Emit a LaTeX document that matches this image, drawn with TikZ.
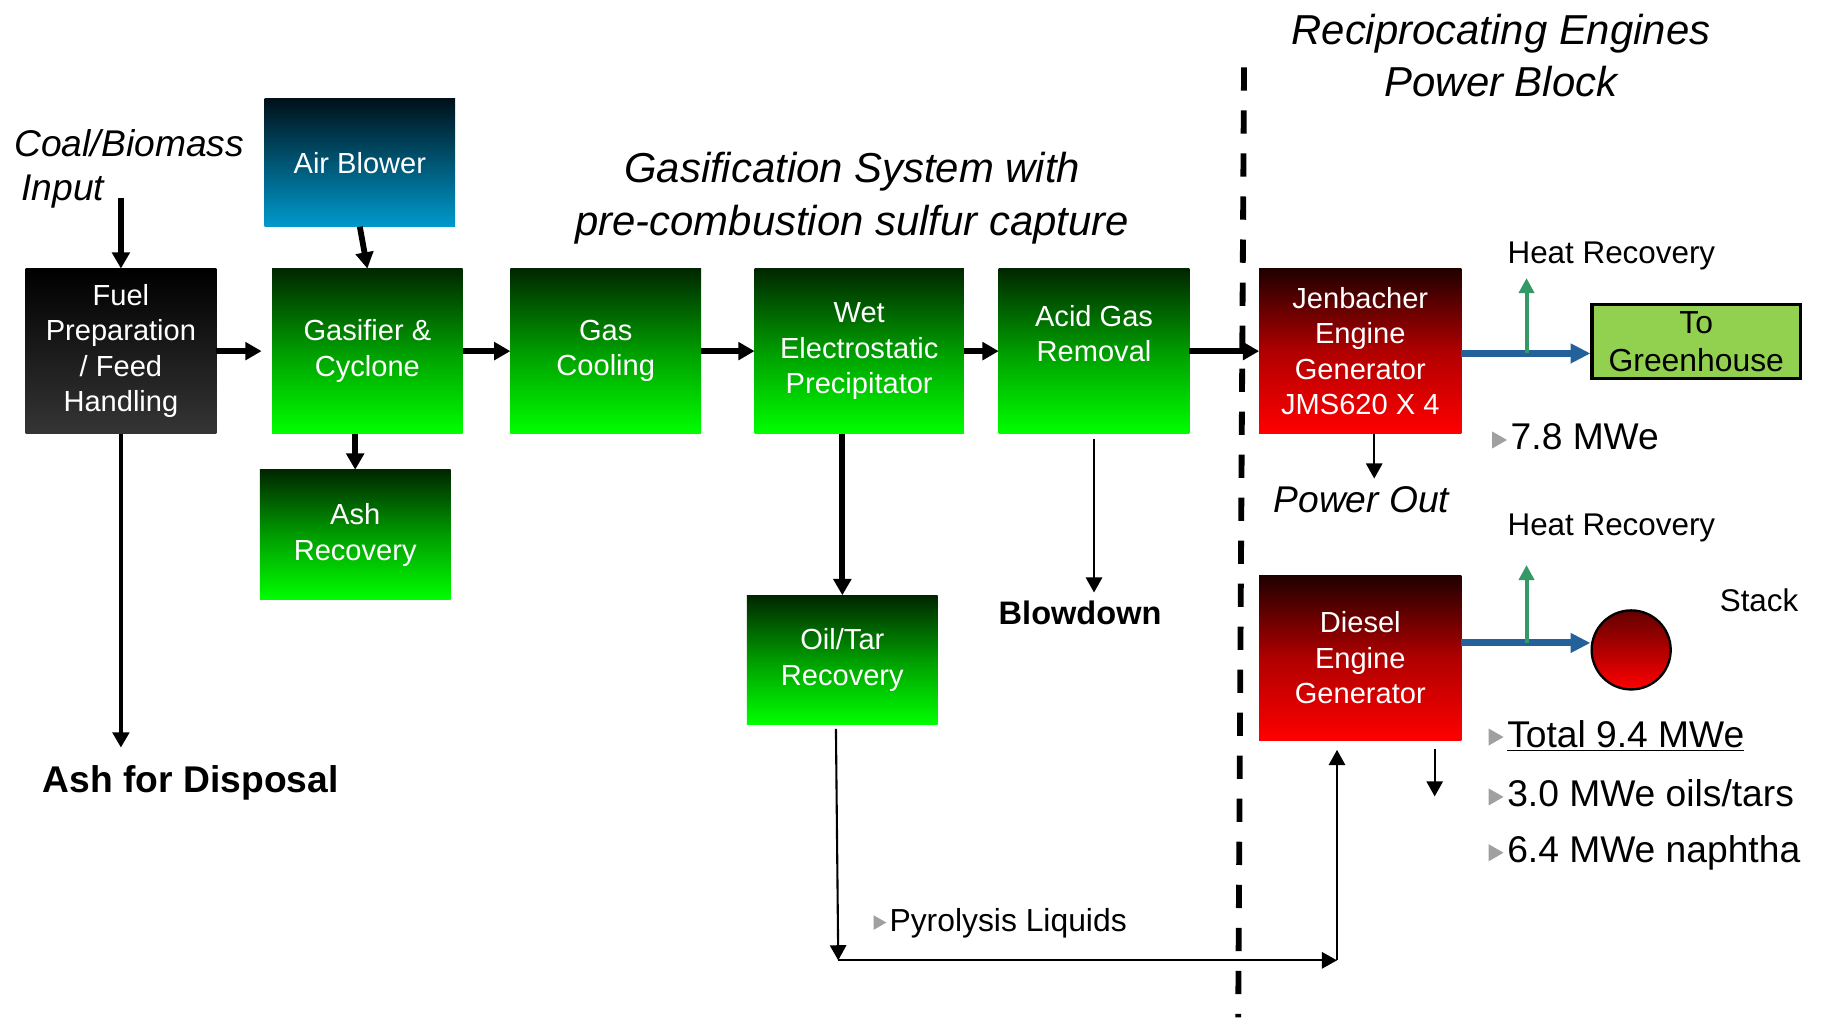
\documentclass[tikz,border=0pt]{standalone}
\usepackage{fontspec}
\setmainfont{Liberation Sans}
\definecolor{procgreen}{HTML}{00FF00}
\definecolor{procgreenmid}{HTML}{009C00}
\definecolor{procgreendark}{HTML}{002600}
\definecolor{procred}{HTML}{FF0000}
\definecolor{procredmid}{HTML}{B00000}
\definecolor{procreddark}{HTML}{200000}
\definecolor{procblue}{HTML}{009ACD}
\definecolor{procbluedark}{HTML}{00111A}
\definecolor{fuelgray}{HTML}{353535}
\definecolor{housegreen}{HTML}{92D050}
\definecolor{heatblue}{HTML}{24609A}
\definecolor{heatgreen}{HTML}{339966}
\definecolor{bulgray}{HTML}{A0A0A0}
\usepackage{tikz}
\usetikzlibrary{arrows.meta, positioning}
\newcommand{\bul}{\tikz[baseline=-0.6pt]\fill[bulgray] (0,0) -- (0,0.46em) -- (0.4em,0.23em) -- cycle;\hspace{0.1em}}

\begin{document}
\begin{tikzpicture}[x=0.5pt, y=-0.5pt,
      procbox/.style={minimum width=82pt, minimum height=71pt, inner sep=2pt, outer sep=0pt,
                      font=\fontsize{12.5}{15.25}\selectfont, align=center, text=white},
      greenbox/.style={procbox, top color=procgreendark, bottom color=procgreen, middle color=procgreenmid},
      redbox/.style={procbox, minimum width=87pt, top color=procreddark, bottom color=procred, middle color=procredmid},
      fuelbox/.style={procbox, top color=black, bottom color=fuelgray},
      bluebox/.style={procbox, minimum height=55pt, top color=procbluedark, bottom color=procblue},
      housebox/.style={draw=black, line width=1.3pt, fill=housegreen, minimum width=89.7pt,
                       minimum height=31.7pt, inner sep=1pt, align=center,
                       font=\fontsize{13.7}{16.5}\selectfont},
      stackball/.style={circle, draw=black, line width=1pt, minimum size=34pt,
                        top color=procreddark!70!procred, bottom color=procred, middle color=procredmid},
      headline/.style={font=\fontsize{18}{22.5}\selectfont\itshape, align=center},
      heatlabel/.style={font=\fontsize{13.5}{16}\selectfont},
      mwlabel/.style={inner sep=0pt, font=\fontsize{16}{19}\selectfont},
      thickarr/.style={-{Triangle[length=7pt, width=7.5pt]}, line width=2.5pt},
      midarr/.style={-{Triangle[length=6.5pt, width=7pt]}, line width=1.7pt},
      thinarr/.style={-{Triangle[length=6.5pt, width=7pt]}, line width=0.9pt},
      heatarr/.style={-{Triangle[length=8.5pt, width=8pt]}, line width=3pt, heatblue},
      ventarr/.style={-{Triangle[length=6.5pt, width=6.5pt]}, line width=1.7pt, heatgreen},
      divider/.style={line width=2.5pt, dash pattern=on 10pt off 8.5pt}
    ]
    \useasboundingbox (0,0) rectangle (1568,889);

    \node[fuelbox, anchor=north west] (fuel) at (22,231) {Fuel\\Preparation\\/ Feed\\Handling};
    \node[greenbox, right=24pt of fuel] (gasifier) {Gasifier \&\\Cyclone};
    \node[greenbox, right=20.5pt of gasifier] (cooling) {Gas\\Cooling};
    \node[greenbox, minimum width=90pt, right=23pt of cooling] (esp) {Wet\\Electrostatic\\Precipitator};
    \node[greenbox, right=15pt of esp] (acid) {Acid Gas\\Removal\\\mbox{}};
    \node[redbox, right=30pt of acid] (jenbacher) {Jenbacher\\Engine\\Generator\\JMS620 X 4};
    \node[bluebox, above=18pt of gasifier, xshift=-3.25pt] (blower) {Air Blower};
    \node[greenbox, minimum height=56pt, below=15.5pt of gasifier, xshift=-5.25pt] (ashrec) {Ash\\Recovery};
    \node[greenbox, minimum height=55.5pt, below=69.5pt of esp, xshift=-7.25pt] (oiltar) {Oil/Tar\\Recovery};
    \node[redbox, below=61pt of jenbacher] (diesel) {Diesel\\Engine\\Generator};
    \node[housebox] (greenhouse) at (1459,294) {To\\Greenhouse};
    \node[stackball] (stack) at (1403,559) {};

    \node[headline] (enginetitle) at (1291,47.5) {Reciprocating Engines\\Power Block};
    \node[headline] (gastitle) at (733,170.5) {Gasification System with\\pre-combustion sulfur capture};
    \node[font=\fontsize{16}{19}\selectfont\itshape, align=left, inner sep=0pt, anchor=west] (coal) at (12,145) {Coal/Biomass\\\hspace*{3pt}Input};
    \node[font=\fontsize{16}{19}\selectfont\bfseries] (disposal) at (164,673) {Ash for Disposal};
    \node[font=\fontsize{14}{17}\selectfont\bfseries] (blowdown) at (929,527) {Blowdown};
    \node[font=\fontsize{16}{19}\selectfont\itshape] (powerout) at (1171,430) {Power Out};
    \node[heatlabel] (heattop) at (1386,220) {Heat Recovery};
    \node[heatlabel] (heatbottom) at (1386,454) {Heat Recovery};
    \node[heatlabel] (stacklabel) at (1513,516) {Stack};
    \node[mwlabel, anchor=base west] (mwjen) at (1283,387) {\bul 7.8 MWe};
    \node[mwlabel, anchor=base west] (mwtotal) at (1280,642.5) {\bul\underline{Total 9.4 MWe}};
    \node[mwlabel, below=25.75pt of mwtotal.base west, anchor=base west] (mwoils) {\bul 3.0 MWe oils/tars};
    \node[mwlabel, below=24pt of mwoils.base west, anchor=base west] (mwnaphtha) {\bul 6.4 MWe naphtha};
    \node[inner sep=0pt, font=\fontsize{13.7}{16}\selectfont, anchor=base west] (pyro) at (751,801) {\bul Pyrolysis Liquids};

    \coordinate (coalin) at (104,170);
    \coordinate (dispin) at (104,643);
    \coordinate (pyA) at (721,826);
    \coordinate (pyB) at (1150,826);
    \coordinate (tapA) at (1313,304);
    \coordinate (tapB) at (1313,553);

    \draw[divider] (1070,58) -- (1065,875);

    \draw[thickarr] (coalin) -- (fuel.north);
    \draw[thickarr] (blower.south) -- (gasifier.north);
    \draw[thickarr, shorten >=4.5pt] (fuel) -- (gasifier);
    \draw[thickarr] (gasifier) -- (cooling);
    \draw[thickarr] (cooling) -- (esp);
    \draw[thickarr] (esp) -- (acid);
    \draw[thickarr] (acid) -- (jenbacher);
    \draw[thickarr] (ashrec.north |- gasifier.south) -- (ashrec.north);
    \draw[thickarr] (oiltar.north |- esp.south) -- (oiltar.north);
    \draw[midarr] (fuel.south) -- (dispin);
    \draw[thinarr] ([yshift=-2.5pt]acid.south) -- (acid.south |- blowdown.north);
    \draw[thinarr] ([xshift=6pt]jenbacher.south) -- ([xshift=6pt]jenbacher.south |- powerout.north);
    \draw[thinarr] ([xshift=-2.75pt,yshift=-2pt]oiltar.south) -- (pyA);
    \draw[thinarr] (pyA) -- (pyB);
    \draw[thinarr, shorten >=4pt] (pyB) -- (pyB |- diesel.south);
    \draw[thinarr] ([xshift=32pt,yshift=-3.5pt]diesel.south) -- ++(0,-20.5pt);

    \draw[heatarr] ([yshift=-1pt]jenbacher.east) -- ([yshift=-1pt]jenbacher.east -| greenhouse.west);
    \draw[ventarr] (tapA) -- (tapA |- heattop.south);
    \draw[heatarr] ([yshift=6.5pt]diesel.east) -- ([yshift=6.5pt]diesel.east -| stack.west);
    \draw[ventarr] (tapB) -- ++(0,33.5pt);
  \end{tikzpicture}
\end{document}
